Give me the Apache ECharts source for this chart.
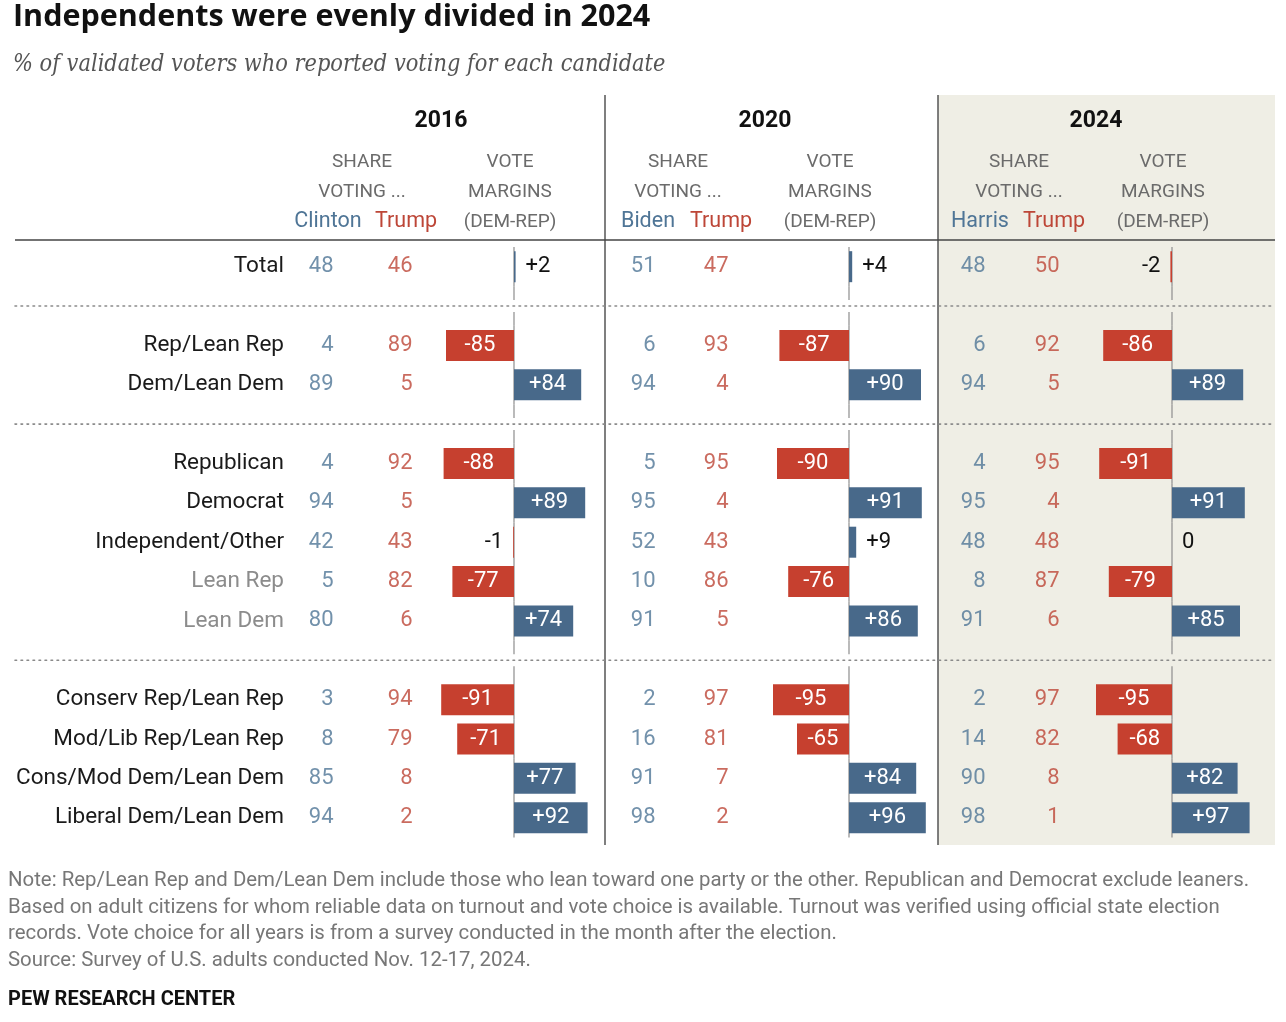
<!DOCTYPE html>
<html>
<head>
<meta charset="utf-8">
<title>Independents were evenly divided in 2024</title>
<script src="https://cdn.jsdelivr.net/npm/echarts@6/dist/echarts.min.js"></script>
<style>
  html, body { margin: 0; padding: 0; background: #fff; }
  #chart { width: 1286px; height: 1022px; }
</style>
</head>
<body>
<div id="chart"></div>
<script>
  // rows of the table, top to bottom
  var rowLabels = ["Total", "Rep/Lean Rep", "Dem/Lean Dem", "Republican", "Democrat",
    "Independent/Other", "Lean Rep", "Lean Dem", "Conserv Rep/Lean Rep",
    "Mod/Lib Rep/Lean Rep", "Cons/Mod Dem/Lean Dem", "Liberal Dem/Lean Dem"];
  var groupBreaks = [1, 3, 8];          // a dotted rule sits before these rows
  var mutedRows = ["Lean Rep", "Lean Dem"];

  var years = ["2016", "2020", "2024"];
  var candidates = [["Clinton", "Trump"], ["Biden", "Trump"], ["Harris", "Trump"]];

  var dem2016 = [48, 4, 89, 4, 94, 42, 5, 80, 3, 8, 85, 94];
  var rep2016 = [46, 89, 5, 92, 5, 43, 82, 6, 94, 79, 8, 2];
  var margin2016 = [2, -85, 84, -88, 89, -1, -77, 74, -91, -71, 77, 92];

  var dem2020 = [51, 6, 94, 5, 95, 52, 10, 91, 2, 16, 91, 98];
  var rep2020 = [47, 93, 4, 95, 4, 43, 86, 5, 97, 81, 7, 2];
  var margin2020 = [4, -87, 90, -90, 91, 9, -76, 86, -95, -65, 84, 96];

  var dem2024 = [48, 6, 94, 4, 95, 48, 8, 91, 2, 14, 90, 98];
  var rep2024 = [50, 92, 5, 95, 4, 48, 87, 6, 97, 82, 8, 1];
  var margin2024 = [-2, -86, 89, -91, 91, 0, -79, 85, -95, -68, 82, 97];

  var dems = [dem2016, dem2020, dem2024];
  var reps = [rep2016, rep2020, rep2024];
  var margins = [margin2016, margin2020, margin2024];

  // layout
  var FONT = 'Roboto, "Noto Sans", sans-serif';
  var BLUE = "#48698a", RED = "#c6402f";
  var BLUE_TXT = "#4f7596", RED_TXT = "#bd4637";
  var ROW_TOP = 247, ROW_H = 39.36;
  var shareCols = [{ left: 334, width: 79 }, { left: 656, width: 73 }, { left: 986, width: 74 }];
  var zeroX = [514, 849, 1172];
  var yearX = [441, 765, 1096];
  var shareX = [362, 678, 1019];
  var voteX = [510, 830, 1163];
  var candX = [[328, 406], [648, 721], [980, 1054]];

  // table slots: rows plus empty separator slots
  var slots = [], slotRow = [];
  rowLabels.forEach(function(r, i) {
    if (groupBreaks.indexOf(i) >= 0) { slots.push("gap" + i); slotRow.push(-1); }
    slots.push(r); slotRow.push(i);
  });
  var gridH = slots.length * ROW_H;

  function signed(v) { return v > 0 ? "+" + v : String(v); }

  var grids = [], xAxes = [], yAxes = [], series = [];

  function addGrid(left, width, xMin, xMax) {
    grids.push({ left: left, top: ROW_TOP, width: width, height: gridH, containLabel: false });
    var gi = grids.length - 1;
    xAxes.push({ gridIndex: gi, type: "value", min: xMin, max: xMax, show: false });
    yAxes.push({ gridIndex: gi, type: "category", data: slots, inverse: true, show: false });
    return gi;
  }

  // full width grid for dotted rules
  var fullGi = addGrid(15, 1260, 0, 1);
  series.push({
    type: "custom", xAxisIndex: fullGi, yAxisIndex: fullGi, silent: true, z: 1,
    data: slots.map(function(s, k) { return [0, k]; }).filter(function(d) { return slotRow[d[1]] < 0; }),
    renderItem: function(params, api) {
      var a = api.coord([0, api.value(1)]), b = api.coord([1, api.value(1)]);
      return { type: "line", shape: { x1: a[0], y1: a[1], x2: b[0], y2: b[1] },
        style: { stroke: "#8a8a8a", lineWidth: 1.6, lineDash: [1.6, 4.4], lineCap: "round" } };
    }
  });

  years.forEach(function(y, yi) {
    // share columns
    var sg = addGrid(shareCols[yi].left, shareCols[yi].width, 0, 1);
    if (yi === 0) {
      yAxes[sg].show = true;
      yAxes[sg].axisLine = { show: false };
      yAxes[sg].axisTick = { show: false };
      yAxes[sg].axisLabel = {
        margin: 50,
        formatter: function(v) {
          if (v.indexOf("gap") === 0) return "";
          return (mutedRows.indexOf(v) >= 0 ? "{m|" : "{n|") + v + "}";
        },
        rich: {
          n: { fontFamily: FONT, fontSize: 22.5, color: "#1a1a1a" },
          m: { fontFamily: FONT, fontSize: 22.5, color: "#8c8c8c" }
        }
      };
    }
    [dems[yi], reps[yi]].forEach(function(arr, side) {
      series.push({
        type: "scatter", xAxisIndex: sg, yAxisIndex: sg, silent: true,
        symbolSize: 1, itemStyle: { color: "rgba(0,0,0,0)" },
        data: slots.map(function(s, k) { return slotRow[k] < 0 ? null : [side, k, arr[slotRow[k]]]; })
          .filter(function(d) { return d; }),
        label: {
          show: true, position: "left", distance: 0,
          formatter: function(p) { return String(p.value[2]); },
          fontFamily: FONT, fontSize: 22, color: side === 0 ? BLUE_TXT : RED_TXT
        }
      });
    });

    // margin bars
    var mg = addGrid(zeroX[yi] - 80, 160, -100, 100);
    series.push({
      type: "custom", xAxisIndex: mg, yAxisIndex: mg, silent: true, z: 1,
      data: slots.map(function(s, k) { return [0, k]; }),
      renderItem: function(params, api) {
        var k = api.value(1);
        var c = api.coord([0, k]);
        var h = api.size([0, 1])[1];
        var st = { stroke: "#8d8d8d", lineWidth: 1.2 };
        if (slotRow[k] >= 0) {
          return { type: "line", shape: { x1: c[0], y1: c[1] - h / 2, x2: c[0], y2: c[1] + h / 2 }, style: st };
        }
        return { type: "group", children: [
          { type: "line", shape: { x1: c[0], y1: c[1] - h / 2, x2: c[0], y2: c[1] - 6 }, style: st },
          { type: "line", shape: { x1: c[0], y1: c[1] + 6, x2: c[0], y2: c[1] + h / 2 }, style: st }
        ] };
      }
    });
    series.push({
      type: "bar", xAxisIndex: mg, yAxisIndex: mg, barWidth: 31, silent: true, z: 3,
      data: slots.map(function(s, k) {
        if (slotRow[k] < 0) return "-";
        var v = margins[yi][slotRow[k]];
        var small = Math.abs(v) < 15;
        return {
          value: v,
          itemStyle: { color: v < 0 ? RED : BLUE },
          label: small ? { position: v < 0 ? "left" : "right", color: "#111", distance: 10 }
                       : { position: "inside", color: "#fff" }
        };
      }),
      label: {
        show: true, fontFamily: FONT, fontSize: 22,
        formatter: function(p) { return signed(p.value); }
      }
    });
  });

  // header and frame
  var graphic = [
    { type: "rect", z: -10, shape: { x: 938, y: 95, width: 337, height: 750 }, style: { fill: "#efeee5" } },
    { type: "line", shape: { x1: 605, y1: 95, x2: 605, y2: 845 }, style: { stroke: "#555", lineWidth: 1.5 } },
    { type: "line", shape: { x1: 938, y1: 95, x2: 938, y2: 845 }, style: { stroke: "#555", lineWidth: 1.5 } },
    { type: "line", shape: { x1: 15, y1: 240, x2: 1275, y2: 240 }, style: { stroke: "#444", lineWidth: 1.5 } }
  ];
  function txt(t, x, y, size, color, weight) {
    graphic.push({ type: "text", x: x, y: y, style: {
      text: t, fontFamily: FONT, fontSize: size, fontWeight: weight || "normal",
      fill: color, align: "center", verticalAlign: "middle" } });
  }
  years.forEach(function(y, yi) {
    txt(y, yearX[yi], 121, 23, "#111", "bold");
    txt("SHARE", shareX[yi], 162, 19, "#6b6b6b");
    txt("VOTING ...", shareX[yi], 192, 19, "#6b6b6b");
    txt("VOTE", voteX[yi], 162, 19, "#6b6b6b");
    txt("MARGINS", voteX[yi], 192, 19, "#6b6b6b");
    txt("(DEM-REP)", voteX[yi], 222, 19, "#6b6b6b");
    txt(candidates[yi][0], candX[yi][0], 222, 21.5, BLUE_TXT);
    txt(candidates[yi][1], candX[yi][1], 222, 21.5, RED_TXT);
  });

  var chart = echarts.init(document.getElementById("chart"));
  chart.setOption({
    animation: false,
    backgroundColor: "#fff",
    title: [
      { text: "Independents were evenly divided in 2024", left: 8, top: -3,
        textStyle: { fontFamily: '"Open Sans", Roboto, sans-serif', fontWeight: "bold", fontSize: 30.5, color: "#111" } },
      { text: "% of validated voters who reported voting for each candidate", left: 8, top: 48,
        textStyle: { fontFamily: '"DejaVu Serif Condensed", "Liberation Serif", serif', fontStyle: "italic",
          fontWeight: "normal", fontSize: 23.3, color: "#555" } },
      { text: "Note: Rep/Lean Rep and Dem/Lean Dem include those who lean toward one party or the other. Republican and Democrat exclude leaners.\n" +
          "Based on adult citizens for whom reliable data on turnout and vote choice is available. Turnout was verified using official state election\n" +
          "records. Vote choice for all years is from a survey conducted in the month after the election.\n" +
          "Source: Survey of U.S. adults conducted Nov. 12-17, 2024.",
        left: 3, top: 863,
        textStyle: { fontFamily: "Roboto, sans-serif", fontWeight: "normal", fontSize: 20.4, lineHeight: 26.5, color: "#777" } },
      { text: "PEW RESEARCH CENTER", left: 3, top: 985,
        textStyle: { fontFamily: "Roboto, sans-serif", fontWeight: "bold", fontSize: 20, color: "#111" } }
    ],
    grid: grids,
    xAxis: xAxes,
    yAxis: yAxes,
    series: series,
    graphic: graphic
  });
</script>
</body>
</html>
